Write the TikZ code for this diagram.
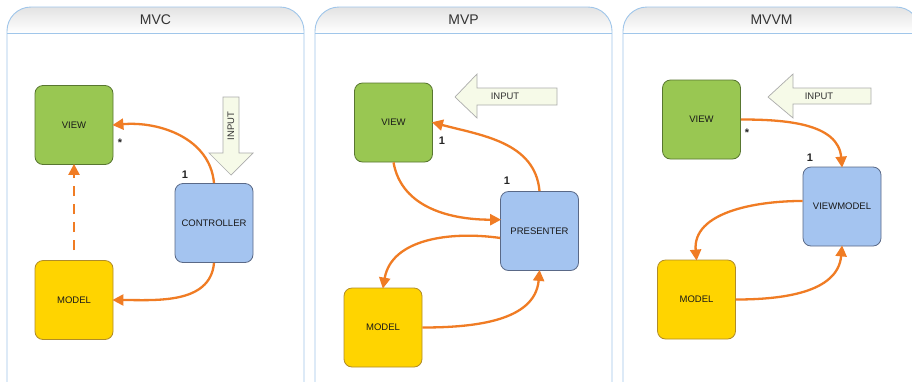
\documentclass[tikz,border=0pt]{standalone}
\usepackage{fontspec}
\setmainfont{Liberation Sans}
\usetikzlibrary{arrows.meta}
\definecolor{viewgreen}{RGB}{153,199,82}
\definecolor{viewedge}{RGB}{88,118,48}
\definecolor{modelyellow}{RGB}{255,212,0}
\definecolor{modeledge}{RGB}{176,140,40}
\definecolor{ctrlblue}{RGB}{164,196,240}
\definecolor{ctrledge}{RGB}{90,105,135}
\definecolor{flow}{RGB}{240,124,36}
\definecolor{inputfill}{RGB}{246,250,232}
\definecolor{frameblue}{RGB}{160,198,234}
\tikzset{
  box/.style={draw, rounded corners=8pt, minimum width=78pt, minimum height=79pt,
    inner sep=0pt, line width=0.8pt, font=\fontsize{9.5}{10}\selectfont, text=black!90},
  viewbox/.style={box, fill=viewgreen, draw=viewedge},
  modelbox/.style={box, fill=modelyellow, draw=modeledge},
  ctrlbox/.style={box, fill=ctrlblue, draw=ctrledge},
  conn/.style={draw=flow, line width=2.3pt, -{Triangle[length=11pt,width=11pt]}, shorten >=-1pt},
  dconn/.style={conn, dash pattern=on 10pt off 8pt, shorten <=10pt},
  inputarrow/.style={draw=gray!65, fill=inputfill, line width=0.7pt},
  inputtext/.style={font=\fontsize{9.5}{10}\selectfont, text=black!80},
  mult/.style={font=\bfseries\fontsize{11}{12}\selectfont, text=black!85},
  paneltitle/.style={font=\fontsize{14}{15}\selectfont, text=black!80}
}
\newcommand\drawpanel[4]{% left, right, title name, title
  \shade[top color=gray!22, bottom color=white]
    (#1,-33) [rounded corners=24pt] -- (#1,-7) -- (#2,-7) [sharp corners] -- (#2,-33) -- cycle;
  \draw[frameblue, line width=0.9pt, rounded corners=24pt]
    (#1,-400) -- (#1,-7) -- (#2,-7) -- (#2,-400);
  \draw[frameblue, line width=0.9pt] (#1,-33) -- (#2,-33);
  \node[paneltitle] (#3) at ({(#1+#2)/2},-20) {#4};
}
\begin{document}
\begin{tikzpicture}[x=1pt,y=1pt]
\useasboundingbox (0,0) rectangle (912,-381);
\clip (0,0) rectangle (912,-381);
\fill[white] (0,0) rectangle (912,-381);

% three frames
\drawpanel{7}{304}{tmvc}{MVC}
\drawpanel{315}{612}{tmvp}{MVP}
\drawpanel{623}{920}{tmvvm}{MVVM}

% ---------- MVC ----------
\node[viewbox]  (v1) at (74,-125)  {VIEW};
\node[modelbox] (m1) at (74,-300)  {MODEL};
\node[ctrlbox]  (c1) at (214,-223) {CONTROLLER};
\draw[inputarrow] (223,-97) -- (239,-97) -- (239,-153) -- (253,-153) -- (231,-175)
  -- (209,-153) -- (223,-153) -- cycle;
\node[inputtext, rotate=90] (i1) at (231,-126) {INPUT};
\draw[conn] (c1.north) to[out=95,in=5] (v1.east);
\draw[conn] (c1.south) to[out=-95,in=0] (m1.east);
\draw[dconn] (m1.north) -- (v1.south);
\node[mult] (s1) at (120,-143) {*};
\node[mult] (n1) at (185,-175) {1};

% ---------- MVP ----------
\node[viewbox]  (v2) at (393.5,-122.5) {VIEW};
\node[ctrlbox]  (p2) at (539.5,-231)   {PRESENTER};
\node[modelbox] (m2) at (383,-327.5)   {MODEL};
\draw[inputarrow] (455,-97) -- (477,-74) -- (477,-88) -- (557,-88) -- (557,-105)
  -- (477,-105) -- (477,-118) -- cycle;
\node[inputtext] (i2) at (505,-96) {INPUT};
\draw[conn] (p2.north) to[out=95,in=-15] (v2.east);
\draw[conn] (v2.south) to[out=-80,in=180] (p2.164);
\draw[conn] (p2.190) to[out=172,in=80] (m2.north);
\draw[conn] (m2.east) to[out=0,in=-95] (p2.south);
\node[mult] (n2a) at (442,-141) {1};
\node[mult] (n2b) at (507,-181) {1};

% ---------- MVVM ----------
\node[viewbox]  (v3) at (701.5,-119.5) {VIEW};
\node[ctrlbox]  (vm3) at (842,-206.5)  {VIEWMODEL};
\node[modelbox] (m3) at (696.5,-299.5) {MODEL};
\draw[inputarrow] (768,-97) -- (793,-74) -- (793,-88) -- (871,-88) -- (871,-104)
  -- (793,-104) -- (793,-118) -- cycle;
\node[inputtext] (i3) at (819,-96) {INPUT};
\draw[conn] (v3.east) to[out=0,in=95] (vm3.north);
\draw[conn] (vm3.172) to[out=180,in=95] (m3.north);
\draw[conn] (m3.east) to[out=0,in=-95] (vm3.south);
\node[mult] (s3) at (747,-133) {*};
\node[mult] (n3) at (810,-158) {1};
\end{tikzpicture}
\end{document}
